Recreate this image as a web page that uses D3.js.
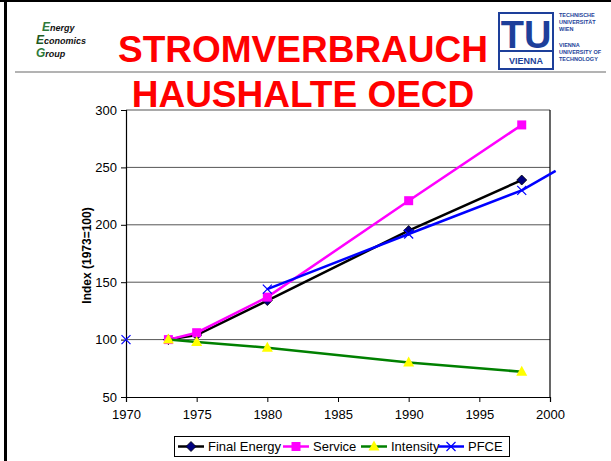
<!DOCTYPE html>
<html>
<head>
<meta charset="utf-8">
<script src="https://cdn.jsdelivr.net/npm/d3@7"></script>
<style>
  body { margin: 0; background: #fff; }
  svg { display: block; font-family: Arial, "Liberation Sans", sans-serif; }
</style>
</head>
<body>
<div id="chart"></div>
<script>
// Household electricity use, OECD - index values (1973 = 100)
const years = [1970, 1973, 1975, 1980, 1990, 1998];
const finalEnergy = [null, 100, 104, 134, 195, 239];
const service = [null, 100, 106, 137, 221, 287];
const intensity = [null, 100, 98, 93, 80, 72];
const pfce = [100, null, null, 144, 192, 230];
// the PFCE line runs on past the plot edge in the original
const pfceTail = {year: 2000.4, value: 247};

const xTicks = [1970, 1975, 1980, 1985, 1990, 1995, 2000];
const yTicks = [50, 100, 150, 200, 250, 300];
const seriesNames = ['Final Energy', 'Service', 'Intensity', 'PFCE'];

const width = 611, height = 461;
const plot = {left: 126, right: 550, top: 110, bottom: 397};

const svg = d3.select('#chart').append('svg')
    .attr('width', width)
    .attr('height', height);

// slide frame
svg.append('rect').attr('x', 0).attr('y', 0).attr('width', width).attr('height', 2).attr('fill', '#000');
svg.append('rect').attr('x', 4).attr('y', 0).attr('width', 3).attr('height', height).attr('fill', '#000');
svg.append('line')
    .attr('x1', 15).attr('x2', 606).attr('y1', 72).attr('y2', 72)
    .attr('stroke', '#9a9a9a').attr('stroke-width', 1.5);

// EEG logo (rough): big green initials with the rest of each word small
const eegWords = [['E', 'nergy', 2], ['E', 'conomics', -2], ['G', 'roup', 0]];
eegWords.forEach((w, i) => {
    let t = svg.append('text')
        .attr('x', 40 + w[2] - i * 2).attr('y', 31 + i * 13)
        .attr('font-style', 'italic').attr('font-weight', 'bold');
    t.append('tspan')
        .attr('font-size', 12).attr('fill', i === 1 ? '#1f5a1f' : '#2e7a3a')
        .text(w[0]);
    t.append('tspan')
        .attr('font-size', 9).attr('fill', '#111')
        .text(w[1]);
});

// TU Vienna logo (rough)
const tu = svg.append('g').attr('transform', 'translate(499,13)');
tu.append('rect').attr('width', 54).attr('height', 56)
    .attr('fill', '#fff').attr('stroke', '#1d3f9a').attr('stroke-width', 2);
tu.append('text').attr('x', 27).attr('y', 35).attr('text-anchor', 'middle').text('TU')
    .attr('font-size', 38).attr('font-weight', 'bold').attr('fill', '#1d3f9a');
tu.append('line').attr('x1', 0).attr('x2', 54).attr('y1', 38).attr('y2', 38)
    .attr('stroke', '#1d3f9a').attr('stroke-width', 2);
tu.append('text').attr('x', 27).attr('y', 51).attr('text-anchor', 'middle').text('VIENNA')
    .attr('font-size', 9).attr('font-weight', 'bold').attr('fill', '#1d3f9a');
const tuText = [['TECHNISCHE', 17], ['UNIVERSITÄT', 24], ['WIEN', 31], ['VIENNA', 47], ['UNIVERSITY OF', 54], ['TECHNOLOGY', 61]];
tuText.forEach(d => {
    svg.append('text').attr('x', 559).attr('y', d[1]).text(d[0])
        .attr('font-size', 5.5).attr('font-weight', 'bold').attr('fill', '#1d3f9a');
});

// title
svg.append('text').attr('x', 303).attr('y', 62).attr('text-anchor', 'middle')
    .text('STROMVERBRAUCH')
    .attr('font-size', 37).attr('font-weight', 'bold').attr('fill', '#ff0000');

const x = d3.scaleLinear().domain([1970, 2000]).range([plot.left, plot.right]);
const y = d3.scaleLinear().domain([50, 300]).range([plot.bottom, plot.top]);

// gridlines
svg.append('g').selectAll('line')
    .data(yTicks.slice(1))
    .join('line')
    .attr('x1', plot.left).attr('x2', plot.right)
    .attr('y1', d => y(d)).attr('y2', d => y(d))
    .attr('stroke', '#555').attr('stroke-width', 1);

// right border
svg.append('line')
    .attr('x1', plot.right).attr('x2', plot.right)
    .attr('y1', plot.top).attr('y2', plot.bottom)
    .attr('stroke', '#000').attr('stroke-width', 1.2);

// axes
const yAxis = svg.append('g')
    .attr('transform', `translate(${plot.left},0)`)
    .call(d3.axisLeft(y).tickValues(yTicks).tickSize(5).tickPadding(4));
const xAxis = svg.append('g')
    .attr('transform', `translate(0,${plot.bottom})`)
    .call(d3.axisBottom(x).tickValues(xTicks).tickFormat(d3.format('d')).tickSize(5).tickPadding(8));
[yAxis, xAxis].forEach(a => {
    a.select('.domain').attr('stroke', '#000').attr('stroke-width', 1.2);
    a.selectAll('.tick line').attr('stroke', '#000');
    a.selectAll('.tick text').attr('font-size', 13).attr('fill', '#000')
        .attr('font-family', 'Arial, "Liberation Sans", sans-serif');
});

svg.append('text')
    .attr('transform', `translate(91,${(plot.top + plot.bottom) / 2 + 2}) rotate(-90)`)
    .attr('text-anchor', 'middle')
    .text('Index (1973=100)')
    .attr('font-size', 12).attr('font-weight', 'bold');

// marker shapes
function drawMarker(g, type, cx, cy) {
    if (type === 'diamond') {
        g.append('path').attr('d', `M${cx},${cy - 5}L${cx + 5},${cy}L${cx},${cy + 5}L${cx - 5},${cy}Z`)
            .attr('fill', '#000080').attr('stroke', '#000').attr('stroke-width', 0.8);
    } else if (type === 'square') {
        g.append('rect').attr('x', cx - 4.5).attr('y', cy - 4.5).attr('width', 9).attr('height', 9)
            .attr('fill', '#ff00ff');
    } else if (type === 'triangle') {
        g.append('path').attr('d', `M${cx},${cy - 6}L${cx + 5.5},${cy + 4}L${cx - 5.5},${cy + 4}Z`)
            .attr('fill', '#ffff00');
    } else {
        g.append('path').attr('d', `M${cx - 4.5},${cy - 4.5}L${cx + 4.5},${cy + 4.5}M${cx - 4.5},${cy + 4.5}L${cx + 4.5},${cy - 4.5}`)
            .attr('stroke', '#0000ff').attr('stroke-width', 1.2);
    }
}

const series = [
    {name: seriesNames[0], values: finalEnergy, color: '#000000', marker: 'diamond'},
    {name: seriesNames[1], values: service, color: '#ff00ff', marker: 'square'},
    {name: seriesNames[2], values: intensity, color: '#008000', marker: 'triangle'},
    {name: seriesNames[3], values: pfce, color: '#0000ff', marker: 'cross'}
];

const line = d3.line()
    .defined(d => d.value != null)
    .x(d => x(d.year))
    .y(d => y(d.value));

series.forEach(s => {
    let pts = years.map((yr, i) => ({year: yr, value: s.values[i]}));
    let linePts = s.name === 'PFCE' ? pts.concat([pfceTail]) : pts;
    let g = svg.append('g');
    g.append('path')
        .attr('d', line(linePts))
        .attr('fill', 'none')
        .attr('stroke', s.color)
        .attr('stroke-width', 2.5);
    pts.filter(d => d.value != null).forEach(d => drawMarker(g, s.marker, x(d.year), y(d.value)));
});

// second title line sits over the top of the plot
svg.append('text').attr('x', 303).attr('y', 107).attr('text-anchor', 'middle')
    .text('HAUSHALTE OECD')
    .attr('font-size', 37).attr('font-weight', 'bold').attr('fill', '#ff0000');

// legend
const legend = svg.append('g');
legend.append('rect')
    .attr('x', 174.5).attr('y', 436.5).attr('width', 335).attr('height', 20)
    .attr('fill', '#fff').attr('stroke', '#000').attr('stroke-width', 1);
const legendX = [178, 283, 361, 438];
series.forEach((s, i) => {
    let lx = legendX[i];
    legend.append('line')
        .attr('x1', lx).attr('x2', lx + 26).attr('y1', 446.5).attr('y2', 446.5)
        .attr('stroke', s.color).attr('stroke-width', 2.5);
    drawMarker(legend, s.marker, lx + 13, 446.5);
    legend.append('text').attr('x', lx + 30).attr('y', 451).text(s.name)
        .attr('font-size', 13);
});
</script>
</body>
</html>
